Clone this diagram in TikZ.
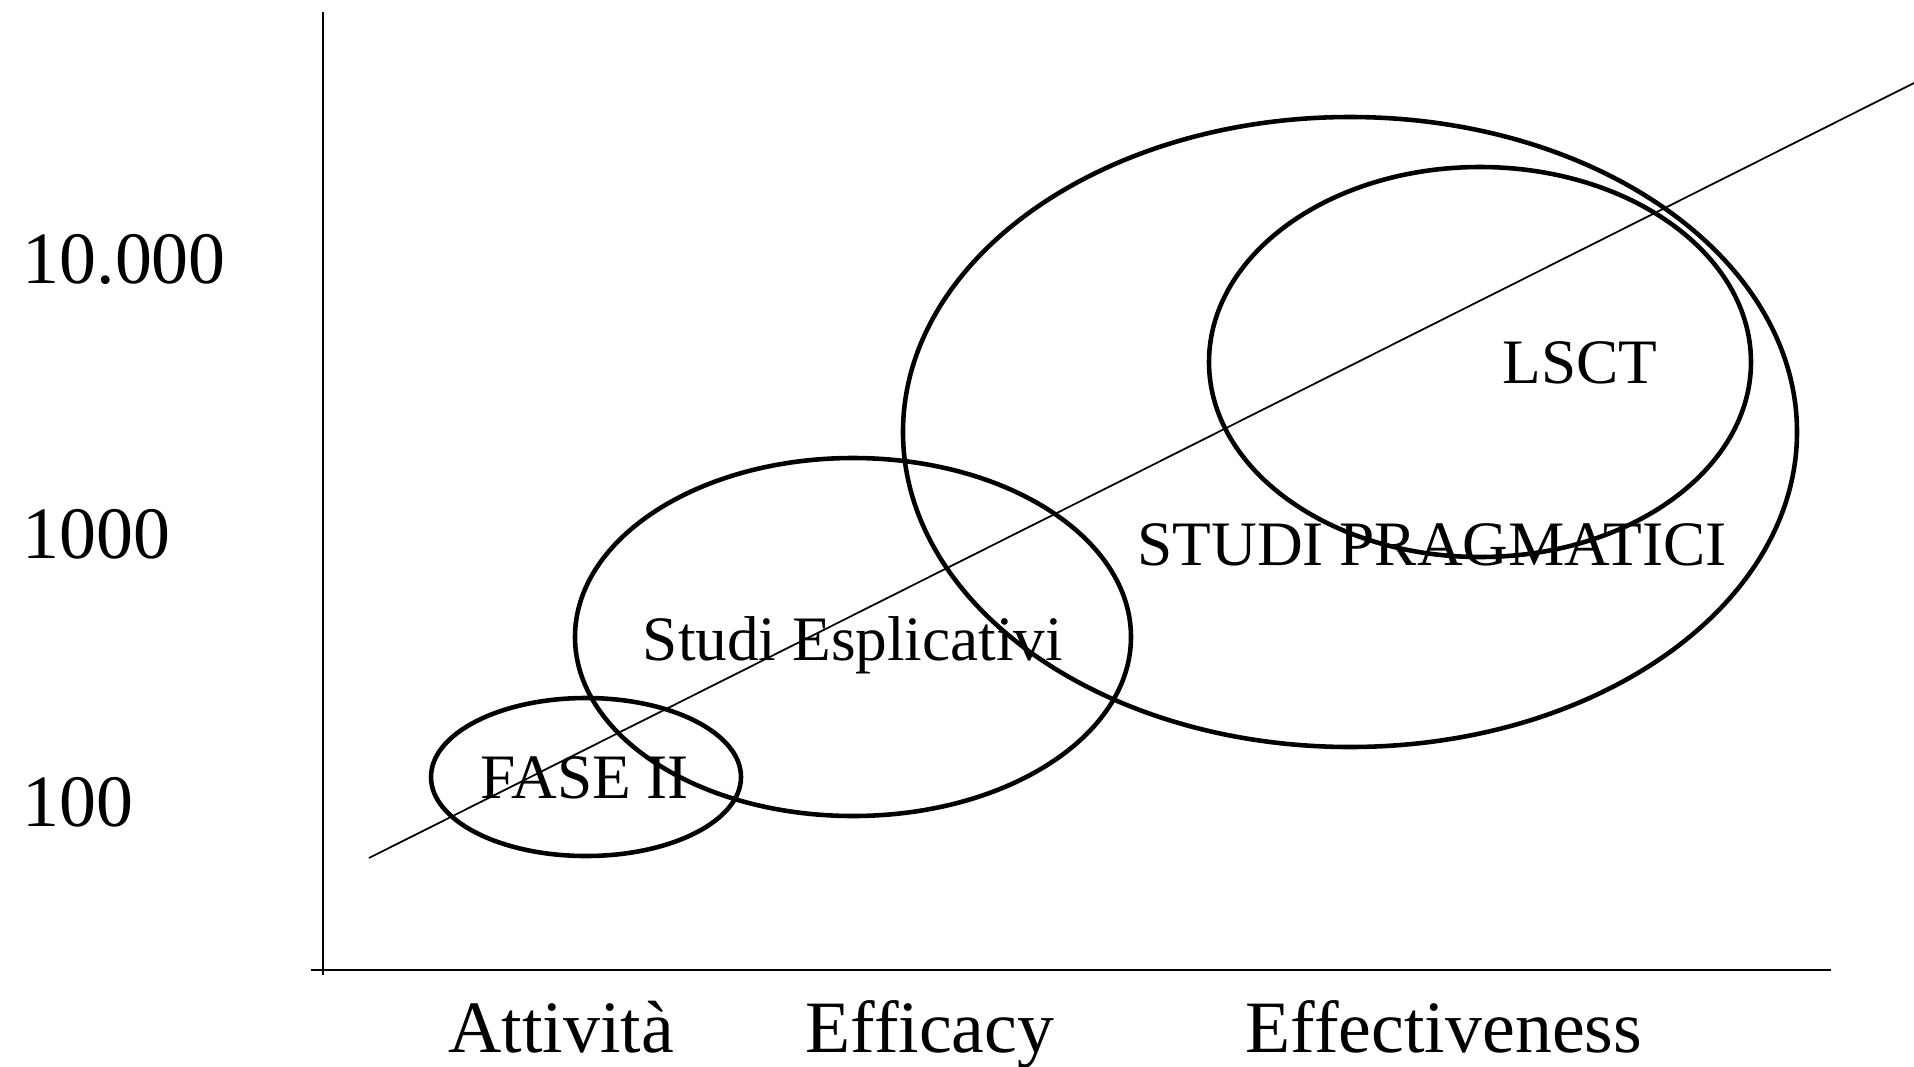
\documentclass[tikz,border=0pt]{standalone}
\usepackage{fontspec}
\setmainfont{Liberation Serif}
\usepackage{tikz}

\tikzset{
    ring/.style={line width=1.3pt},
    axislabel/.style={inner sep=0pt, anchor=base, font=\fontsize{21}{25}\selectfont},
    fieldlabel/.style={inner sep=0pt, anchor=base, font=\fontsize{18}{21}\selectfont}
}

\begin{document}
\begin{tikzpicture}[x=0.01cm, y=-0.01cm]

\useasboundingbox (0,0) rectangle (1914,1066);

% Axes
\coordinate (ytop) at (323,12);
\coordinate (ybot) at (323,975);
\coordinate (xleft) at (311,970);
\coordinate (xright) at (1831,970);
\draw[line width=0.5pt] (ytop) -- (ybot);
\draw[line width=0.7pt] (xleft) -- (xright);

% Trend line
\coordinate (trendA) at (369,858);
\coordinate (trendB) at (1914,83);
\draw[line width=0.5pt] (trendA) -- (trendB);

% Ellipses
\draw[ring] (586,777) ellipse [x radius=155, y radius=79];
\draw[ring] (853,637) ellipse [x radius=278, y radius=179];
\draw[ring] (1350,432) ellipse [x radius=447, y radius=315];
\draw[ring] (1480,362) ellipse [x radius=271, y radius=195];

% Labels inside
\node[fieldlabel] (fase) at (585,798) {FASE II};
\node[fieldlabel] (espl) at (853,660) {Studi Esplicativi};
\node[fieldlabel] (prag) at (1432,565) {STUDI PRAGMATICI};
\node[fieldlabel] (lsct) at (1580,383) {LSCT};

% Vertical axis values
\node[axislabel, anchor=base west] (v4) at (22,283) {10.000};
\node[axislabel, anchor=base west] (v3) at (22,558) {1000};
\node[axislabel, anchor=base west] (v2) at (22,826) {100};

% Horizontal axis values
\node[axislabel] (attiv) at (561,1052) {Attività};
\node[axislabel] (effic) at (930,1052) {Efficacy};
\node[axislabel] (effec) at (1444,1052) {Effectiveness};

\end{tikzpicture}
\end{document}
